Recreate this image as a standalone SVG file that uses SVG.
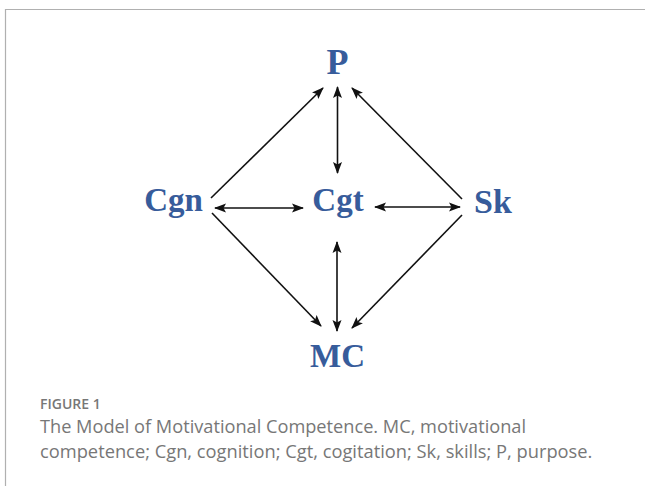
<svg xmlns="http://www.w3.org/2000/svg" width="645" height="486" viewBox="0 0 645 486">
  <defs>
    <marker id="ah" markerUnits="userSpaceOnUse" markerWidth="12" markerHeight="10" refX="11" refY="4.5" orient="auto-start-reverse" viewBox="0 0 12 9">
      <path d="M0,0 L12,4.5 L0,9 L2.5,4.5 z" fill="#111"/>
    </marker>
    <style>
      .node { font-family: "Liberation Serif", "DejaVu Serif", serif; font-weight: bold; fill: #375c9b; text-anchor: middle; }
      .conn line { stroke: #111; stroke-width: 1.6; fill: none; }
      .cap { font-family: "Open Sans", "Liberation Sans", sans-serif; fill: #777; }
    </style>
  </defs>
  <rect width="645" height="486" fill="#fff"/>
  <path d="M5.5,486 L5.5,9.5 L645,9.5" fill="none" stroke="#b0b0b0" stroke-width="1.2"/>

  <g id="node-P"><text class="node" x="337.5" y="74" font-size="36">P</text></g>
  <g id="node-Cgn"><text class="node" x="173.5" y="211" font-size="33">Cgn</text></g>
  <g id="node-Cgt"><text class="node" x="338" y="211" font-size="33">Cgt</text></g>
  <g id="node-Sk"><text class="node" x="493" y="213" font-size="34">Sk</text></g>
  <g id="node-MC"><text class="node" x="337.5" y="367" font-size="33">MC</text></g>

  <g id="connectors" class="conn">
    <line x1="337.5" y1="87" x2="337.5" y2="173" marker-start="url(#ah)" marker-end="url(#ah)"/>
    <line x1="211" y1="198" x2="323" y2="88" marker-end="url(#ah)"/>
    <line x1="462" y1="199" x2="352" y2="88" marker-end="url(#ah)"/>
    <line x1="215" y1="208" x2="303" y2="208" marker-start="url(#ah)" marker-end="url(#ah)"/>
    <line x1="375" y1="207" x2="460" y2="207" marker-start="url(#ah)" marker-end="url(#ah)"/>
    <line x1="212" y1="213" x2="321" y2="326" marker-end="url(#ah)"/>
    <line x1="462" y1="215" x2="352" y2="328" marker-end="url(#ah)"/>
    <line x1="337" y1="242" x2="337" y2="331" marker-start="url(#ah)" marker-end="url(#ah)"/>
  </g>

  <g id="caption">
    <text class="cap" x="40" y="409" font-size="14" font-weight="600" fill="#6a6a6a">FIGURE 1</text>
    <text class="cap" x="40" y="433" font-size="18.2">The Model of Motivational Competence. MC, motivational</text>
    <text class="cap" x="40" y="458" font-size="18.3">competence; Cgn, cognition; Cgt, cogitation; Sk, skills; P, purpose.</text>
  </g>
</svg>
